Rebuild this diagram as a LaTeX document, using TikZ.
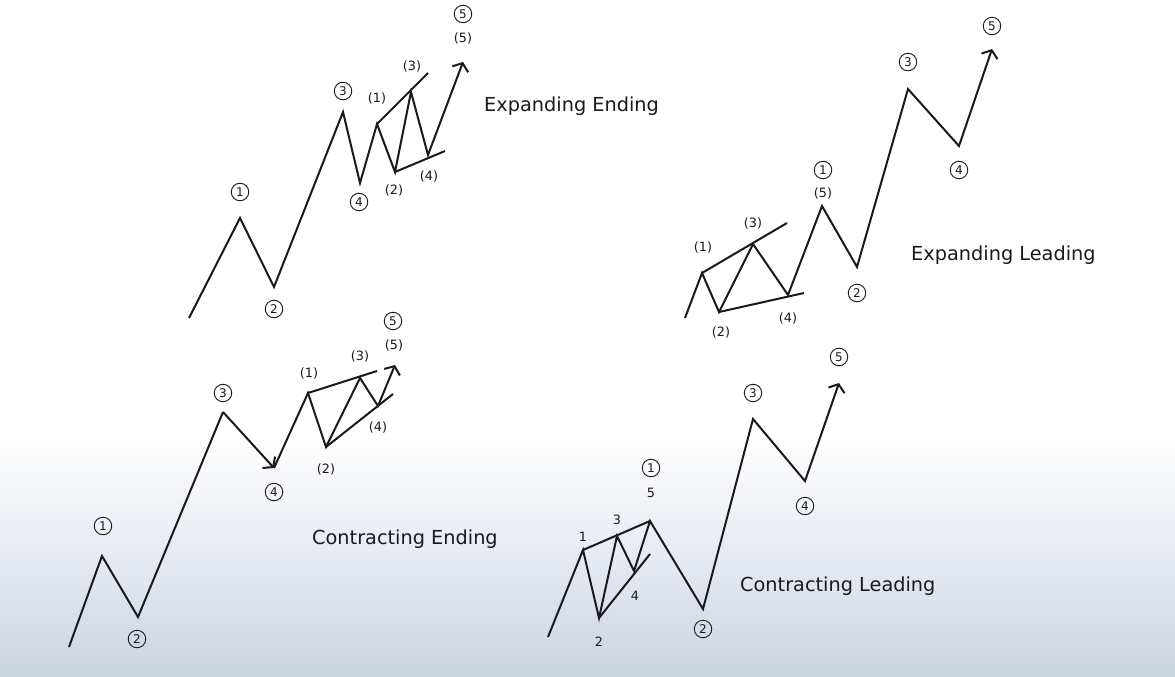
\documentclass[tikz,border=0pt]{standalone}
\usepackage{fontspec}
\setmainfont{DejaVu Sans}
\usetikzlibrary{arrows.meta}
\definecolor{bgblue}{RGB}{204,212,227}
\definecolor{ink}{RGB}{26,26,30}
\begin{document}
\begin{tikzpicture}[x=1pt,y=-1pt,
 wave/.style={line width=2pt, line join=miter, ink},
 guide/.style={line width=2pt, ink},
 tipa/.style={-{Straight Barb[length=6.5pt,width=17pt,line width=2pt]}},
 circ/.style={circle, draw=ink, line width=0.9pt, inner sep=0pt, minimum size=17.5pt, font=\fontsize{12}{12}\selectfont, text=ink},
 sub/.style={inner sep=0pt, font=\fontsize{12.8}{13}\selectfont, text=ink},
 ttl/.style={inner sep=0pt, anchor=west, font=\fontsize{19.3}{20}\selectfont, text=ink}]
\useasboundingbox (0,0) rectangle (1175,677);
\fill[white] (0,0) rectangle (1175,435);
\shade[top color=white, bottom color=bgblue] (0,435) rectangle (1175,677);

% ---------- Expanding Ending ----------
\coordinate (a0) at (189,318);
\coordinate (a1) at (240,218);
\coordinate (a2) at (274,287);
\coordinate (a3) at (343,112);
\coordinate (a4) at (360,183);
\coordinate (as1) at (377,124);
\coordinate (as2) at (395,172);
\coordinate (as3) at (411,92);
\coordinate (as4) at (428,155);
\coordinate (a5) at (463,62);
\coordinate (aU) at (428,73);
\coordinate (aL) at (445,151);
\draw[wave,tipa] (a0) -- (a1) -- (a2) -- (a3) -- (a4) -- (as1) -- (as2) -- (as3) -- (as4) -- (a5);
\draw[guide] (as1) -- (aU);
\draw[guide] (as2) -- (aL);
\node[circ] (la1) at (240,192) {1};
\node[circ] (la2) at (274,309) {2};
\node[circ] (la3) at (343,91) {3};
\node[circ] (la4) at (359,202) {4};
\node[circ] (la5) at (463,14) {5};
\node[sub] (lsa1) at (377,98) {(1)};
\node[sub] (lsa2) at (394,190) {(2)};
\node[sub] (lsa3) at (412,66) {(3)};
\node[sub] (lsa4) at (429,176) {(4)};
\node[sub] (lsa5) at (463,38) {(5)};
\node[ttl] (ta) at (484,106) {Expanding Ending};

% ---------- Expanding Leading ----------
\coordinate (b0) at (685,318);
\coordinate (bs1) at (702,273);
\coordinate (bs2) at (719,312);
\coordinate (bs3) at (753,244);
\coordinate (bs4) at (788,295);
\coordinate (b1) at (822,206);
\coordinate (b2) at (857,267);
\coordinate (b3) at (908,89);
\coordinate (b4) at (959,146);
\coordinate (b5) at (992,49);
\coordinate (bU) at (787,223);
\coordinate (bL) at (804,293);
\draw[wave,tipa] (b0) -- (bs1) -- (bs2) -- (bs3) -- (bs4) -- (b1) -- (b2) -- (b3) -- (b4) -- (b5);
\draw[guide] (bs1) -- (bU);
\draw[guide] (bs2) -- (bL);
\node[sub] (lsb1) at (703,247) {(1)};
\node[sub] (lsb2) at (721,332) {(2)};
\node[sub] (lsb3) at (753,223) {(3)};
\node[sub] (lsb4) at (788,318) {(4)};
\node[sub] (lsb5) at (823,193) {(5)};
\node[circ] (lb1) at (823,170) {1};
\node[circ] (lb2) at (857,293) {2};
\node[circ] (lb3) at (908,62) {3};
\node[circ] (lb4) at (959,170) {4};
\node[circ] (lb5) at (992,26) {5};
\node[ttl] (tb) at (911,255) {Expanding Leading};

% ---------- Contracting Ending ----------
\coordinate (c0) at (69,647);
\coordinate (c1) at (102,556);
\coordinate (c2) at (138,617);
\coordinate (c3) at (223,412);
\coordinate (c4) at (274,468);
\coordinate (cs1) at (308,393);
\coordinate (cs2) at (326,447);
\coordinate (cs3) at (360,378);
\coordinate (cs4) at (378,406);
\coordinate (c5) at (395,365);
\coordinate (cU) at (377,371);
\coordinate (cL) at (393,394);
\draw[wave] (c0) -- (c1) -- (c2) -- (c3);
\draw[wave,tipa] (c3) -- (c4);
\draw[wave,tipa] (c4) -- (cs1) -- (cs2) -- (cs3) -- (cs4) -- (c5);
\draw[guide] (cs1) -- (cU);
\draw[guide] (cs2) -- (cL);
\node[circ] (lc1) at (103,526) {1};
\node[circ] (lc2) at (137,639) {2};
\node[circ] (lc3) at (223,393) {3};
\node[circ] (lc4) at (274,492) {4};
\node[circ] (lc5) at (393,321) {5};
\node[sub] (lsc1) at (309,373) {(1)};
\node[sub] (lsc2) at (326,469) {(2)};
\node[sub] (lsc3) at (360,356) {(3)};
\node[sub] (lsc4) at (378,427) {(4)};
\node[sub] (lsc5) at (394,345) {(5)};
\node[ttl] (tc) at (312,539) {Contracting Ending};

% ---------- Contracting Leading ----------
\coordinate (d0) at (548,637);
\coordinate (ds1) at (583,550);
\coordinate (ds2) at (599,618);
\coordinate (ds3) at (617,536);
\coordinate (ds4) at (634,571);
\coordinate (d1) at (650,521);
\coordinate (d2) at (703,609);
\coordinate (d3) at (753,419);
\coordinate (d4) at (805,481);
\coordinate (d5) at (839,383);
\coordinate (dL) at (650,554);
\draw[wave,tipa] (d0) -- (ds1) -- (ds2) -- (ds3) -- (ds4) -- (d1) -- (d2) -- (d3) -- (d4) -- (d5);
\draw[guide] (ds1) -- (d1);
\draw[guide] (ds2) -- (dL);
\node[sub] (lsd1) at (583,537) {1};
\node[sub] (lsd2) at (599,642) {2};
\node[sub] (lsd3) at (617,520) {3};
\node[sub] (lsd4) at (635,596) {4};
\node[sub] (lsd5) at (651,493) {5};
\node[circ] (ld1) at (651,468) {1};
\node[circ] (ld2) at (703,629) {2};
\node[circ] (ld3) at (753,393) {3};
\node[circ] (ld4) at (805,506) {4};
\node[circ] (ld5) at (839,357) {5};
\node[ttl] (td) at (740,586) {Contracting Leading};
\end{tikzpicture}
\end{document}
